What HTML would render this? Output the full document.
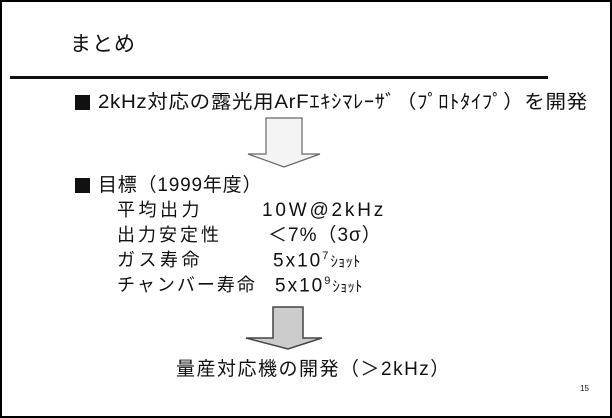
<!DOCTYPE html>
<html><head><meta charset="utf-8"><style>
body{margin:0;width:612px;height:418px;background:#fff;overflow:hidden;position:relative;font-family:"Liberation Sans","Noto Sans CJK JP",sans-serif;color:#111}
.f{position:absolute;left:0;top:0;width:608px;height:414px;border:2px solid #000}
.t{position:absolute;white-space:nowrap;line-height:1}
.b{position:absolute;width:15px;height:15px;background:#111}
</style></head><body>
<div class="f"></div>
<div class="t" style="left:70px;top:34px;font-size:21px;letter-spacing:1px">まとめ</div>
<div style="position:absolute;left:10px;top:76px;width:538px;height:3px;background:#111"></div>
<div class="b" style="left:75px;top:95px"></div>
<div class="t" style="left:98px;top:93px;font-size:19px;letter-spacing:0.6px;transform:scaleX(1.08);transform-origin:left top">2kHz対応の露光用ArFｴｷｼﾏﾚｰｻﾞ（ﾌﾟﾛﾄﾀｲﾌﾟ）を開発</div>
<svg style="position:absolute;left:0;top:0" width="612" height="418">
<polygon points="266,118 302,118 302,154 320,154 284,167 248,154 266,154" fill="#f4f4f4" stroke="#666" stroke-width="1.2"/>
<polygon points="273,307 303,307 303,338 322,338 288,349 246,338 273,338" fill="#ccc" stroke="#444" stroke-width="1.5"/>
</svg>
<div class="b" style="left:75px;top:178px"></div>
<div class="t" style="left:98px;top:176px;font-size:19px;letter-spacing:0.8px">目標（1999年度）</div>
<div class="t" style="left:117px;top:201px;font-size:18px;letter-spacing:3.5px">平均出力</div>
<div class="t" style="left:262px;top:201px;font-size:19px;letter-spacing:2.8px">10W@2kHz</div>
<div class="t" style="left:117px;top:226px;font-size:18px;letter-spacing:3px">出力安定性</div>
<div class="t" style="left:268px;top:226px;font-size:19px;letter-spacing:1px">＜7%（3σ）</div>
<div class="t" style="left:117px;top:251px;font-size:18px;letter-spacing:3.5px">ガス寿命</div>
<div class="t" style="left:273px;top:251px;font-size:19px;letter-spacing:2px">5x10<sup style="font-size:11px">7</sup><span style="font-size:15px;letter-spacing:0">ｼｮｯﾄ</span></div>
<div class="t" style="left:117px;top:276px;font-size:18px;letter-spacing:2px">チャンバー寿命</div>
<div class="t" style="left:275px;top:276px;font-size:19px;letter-spacing:2px">5x10<sup style="font-size:11px">9</sup><span style="font-size:15px;letter-spacing:0">ｼｮｯﾄ</span></div>
<div class="t" style="left:176px;top:360px;font-size:19px;letter-spacing:1.5px">量産対応機の開発（＞2kHz）</div>
<div class="t" style="left:580px;top:385px;font-size:8px">15</div>
</body></html>
